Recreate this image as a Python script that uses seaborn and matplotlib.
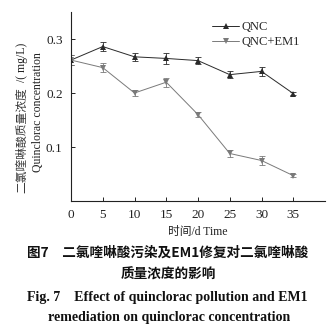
import matplotlib
matplotlib.use("Agg")
import matplotlib.pyplot as plt
import seaborn as sns
import pandas as pd

days = [0, 5, 10, 15, 20, 25, 30, 35]
qnc = [0.261, 0.286, 0.267, 0.264, 0.260, 0.234, 0.240, 0.199]
qnc_err = [0.010, 0.008, 0.007, 0.010, 0.007, 0.007, 0.009, 0.002]
em1 = [0.261, 0.247, 0.200, 0.220, 0.160, 0.088, 0.075, 0.047]
em1_err = [0.010, 0.008, 0.006, 0.008, 0.005, 0.006, 0.009, 0.003]
series_names = ["QNC", "QNC+EM1"]
xticks = [0, 5, 10, 15, 20, 25, 30, 35]
yticks = [0.1, 0.2, 0.3]

sns.set_style("ticks")
plt.rcParams['font.family'] = ['Liberation Serif', 'Noto Sans CJK SC']

W, H = 335, 331
fig = plt.figure(figsize=(W / 100, H / 100), dpi=100)
ax = fig.add_axes([71 / W, 1 - 201 / H, (325 - 71) / W, (201 - 12) / H])

df = pd.DataFrame({
    "day": days * 2,
    "conc": qnc + em1,
    "err": qnc_err + em1_err,
    "series": [series_names[0]] * len(days) + [series_names[1]] * len(days),
})
colors = {"QNC": "#2a2a2a", "QNC+EM1": "#7a7a7a"}
markers = {"QNC": "^", "QNC+EM1": "v"}

sns.lineplot(data=df, x="day", y="conc", hue="series", style="series",
             markers=markers, dashes=False, palette=colors, ax=ax,
             linewidth=0.7, markersize=5, markeredgewidth=0)
for name in series_names:
    sub = df[df["series"] == name]
    ax.errorbar(sub["day"], sub["conc"], yerr=sub["err"], fmt="none",
                ecolor=colors[name], elinewidth=0.6, capsize=2, capthick=0.6)

ax.set_xlim(0, 40)
ax.set_ylim(0, 0.35)
ax.set_xticks(xticks)
ax.set_yticks(yticks)
ax.set_yticklabels([f"{v:.1f}" for v in yticks])
ax.tick_params(direction="in", length=3, width=0.7, labelsize=9.5, colors="#222222", pad=6)
for s in ["top", "right"]:
    ax.spines[s].set_visible(False)
for s in ["left", "bottom"]:
    ax.spines[s].set_linewidth(0.8)
    ax.spines[s].set_color("#222222")
ax.set_xlabel("")
ax.set_ylabel("")

leg = ax.legend(loc="upper left", bbox_to_anchor=(0.51, 1.01), frameon=False, fontsize=9,
                handlelength=2.2, handletextpad=0.2, labelspacing=0.25)

def fx(x):
    return x / W

def fy(y):
    return 1 - y / H

# y label
fig.text(fx(22), fy(193), "二氯喹啉酸质量浓度", rotation=90, ha="center", va="bottom",
         fontsize=8.5, color="#3a3a3a", family=["Noto Sans CJK SC"])
fig.text(fx(22), fy(82), "/( mg/L)", rotation=90, ha="center", va="bottom",
         fontsize=8.5, color="#222222")
fig.text(fx(38), fy(112), "Quinclorac concentration", rotation=90, ha="center", va="center",
         fontsize=8.5, color="#222222")

# x label
fig.text(fx(198), fy(232), "时间/d Time", ha="center", va="center", fontsize=8.5,
         color="#222222", family=["Liberation Serif", "Noto Sans CJK SC"])

# captions
fig.text(fx(168), fy(253), "图7　二氯喹啉酸污染及EM1修复对二氯喹啉酸", ha="center", va="center",
         fontsize=9.8, fontweight="bold", color="#111111", family=["Noto Sans CJK SC"])
fig.text(fx(168), fy(275), "质量浓度的影响", ha="center", va="center",
         fontsize=9.8, fontweight="bold", color="#111111", family=["Noto Sans CJK SC"])
fig.text(fx(167), fy(297), "Fig. 7    Effect of quinclorac pollution and EM1", ha="center", va="center",
         fontsize=10, fontweight="bold", color="#111111")
fig.text(fx(169), fy(318), "remediation on quinclorac concentration", ha="center", va="center",
         fontsize=10, fontweight="bold", color="#111111")

fig.savefig("out.png", dpi=100)
